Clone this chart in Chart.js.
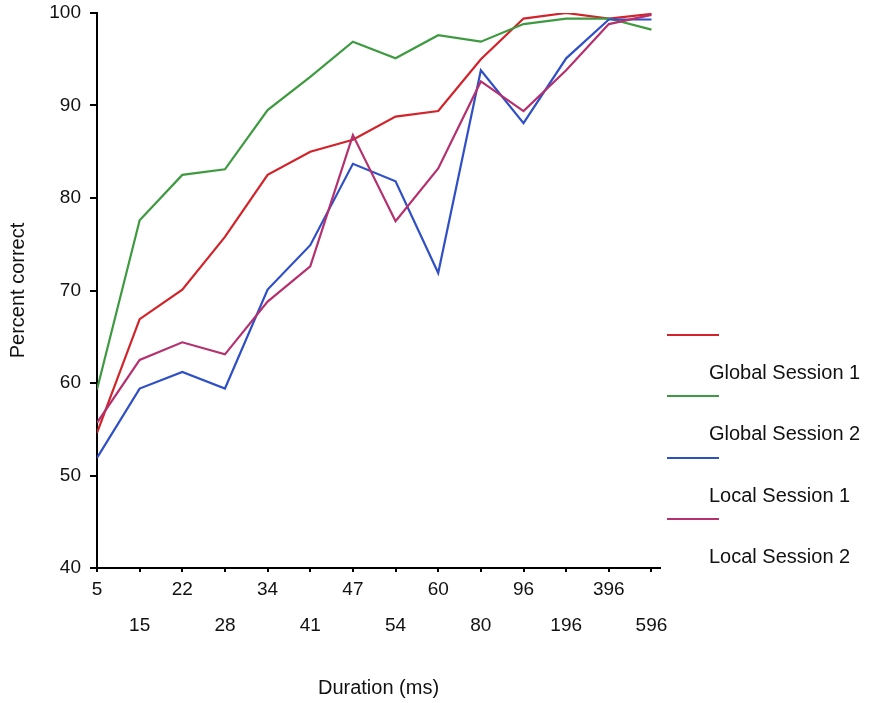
<!DOCTYPE html>
<html>
<head>
<meta charset="utf-8">
<script src="https://cdn.jsdelivr.net/npm/chart.js@4/dist/chart.umd.min.js"></script>
<style>
  html, body { margin: 0; padding: 0; background: #fff; }
  #wrap { position: relative; width: 874px; height: 703px; }
  #c { position: absolute; left: 0; top: 0; }
  #legend { position: absolute; left: 0; top: 0; width: 874px; height: 703px; pointer-events: none;
            font-family: "Liberation Sans", Arial, sans-serif; font-size: 20px; color: #111; }
  .lg-line { position: absolute; height: 2px; width: 52px; }
  .lg-text { position: absolute; white-space: nowrap; line-height: 24px; }
</style>
</head>
<body>
<div id="wrap">
  <canvas id="c" width="874" height="703"></canvas>
  <div id="legend"></div>
</div>
<script>
const categories = ['5','15','22','28','34','41','47','54','60','80','96','196','396','596'];
const yTicks = [40, 50, 60, 70, 80, 90, 100];
const globalSession1 = [54.6, 66.9, 70.1, 75.8, 82.5, 85.0, 86.3, 88.8, 89.4, 95.0, 99.4, 100.0, 99.4, 99.9];
const globalSession2 = [59.3, 77.6, 82.5, 83.1, 89.5, 93.1, 96.9, 95.1, 97.6, 96.9, 98.8, 99.4, 99.4, 98.2];
const localSession1  = [51.9, 59.4, 61.2, 59.4, 70.1, 74.9, 83.7, 81.8, 71.9, 93.8, 88.1, 95.1, 99.3, 99.3];
const localSession2  = [55.7, 62.5, 64.4, 63.1, 68.8, 72.6, 86.8, 77.5, 83.2, 92.6, 89.4, 93.8, 98.8, 99.8];
const seriesLabels = ['Global Session 1', 'Global Session 2', 'Local Session 1', 'Local Session 2'];
const seriesColors = ['#d2232a', '#3e9a40', '#2f4fc6', '#b5306e'];
const seriesValues = [globalSession1, globalSession2, localSession1, localSession2];

const FONT = '"Liberation Sans", Arial, sans-serif';

const datasets = seriesValues.map((vals, k) => ({
  label: seriesLabels[k],
  data: vals.map((v, i) => ({ x: i, y: v })),
  borderColor: seriesColors[k],
  backgroundColor: seriesColors[k],
  borderWidth: 2.2,
  pointRadius: 0,
  tension: 0,
  fill: false
}));
const order = [3, 2, 1, 0];
datasets.forEach((d, k) => { d.order = order[k]; });

const chart = new Chart(document.getElementById('c'), {
  type: 'line',
  data: { datasets },
  options: {
    responsive: false,
    animation: false,
    layout: { padding: { top: 13, right: 214, bottom: 0, left: 0 } },
    plugins: { legend: { display: false }, tooltip: { enabled: false } },
    scales: {
      x: {
        type: 'linear',
        min: 0,
        max: 13.2,
        afterFit: s => { s.height = 135; s.paddingLeft = 0; s.paddingRight = 0; },
        afterBuildTicks: s => { s.ticks = categories.map((c, i) => ({ value: i })); },
        grid: { display: true, drawOnChartArea: false, drawTicks: true, tickLength: 4, color: '#000', lineWidth: 2 },
        border: { display: true, color: '#000', width: 2 },
        ticks: {
          autoSkip: false,
          maxRotation: 0,
          minRotation: 0,
          padding: 0,
          color: '#111',
          font: { family: FONT, size: 19, lineHeight: 1.87 },
          callback: (v) => {
            const i = Math.round(v);
            const lab = categories[i];
            if (lab === undefined) return '';
            return i % 2 === 0 ? lab : ['', lab];
          }
        },
        title: { display: true, text: 'Duration (ms)', color: '#111', font: { family: FONT, size: 20 }, padding: { top: 0, bottom: 3 } }
      },
      y: {
        min: 40,
        max: 100,
        afterFit: s => { s.width = 97; s.paddingTop = 0; s.paddingBottom = 0; },
        afterBuildTicks: s => { s.ticks = yTicks.map(v => ({ value: v })); },
        grid: { display: true, drawOnChartArea: false, drawTicks: true, tickLength: 7, color: '#000', lineWidth: 2 },
        border: { display: true, color: '#000', width: 2 },
        ticks: { padding: 9, color: '#111', font: { family: FONT, size: 19 } },
        title: { display: true, text: 'Percent correct', color: '#111', font: { family: FONT, size: 20 }, padding: { top: 6, bottom: 0 } }
      }
    }
  }
});

const legend = document.getElementById('legend');
const lineY0 = 335, stepY = 61.3, lineX = 667, textX = 709, textDy = 37;
chart.data.datasets.forEach((d, k) => {
  const ln = document.createElement('div');
  ln.className = 'lg-line';
  ln.style.left = lineX + 'px';
  ln.style.top = (lineY0 + k * stepY - 1) + 'px';
  ln.style.background = d.borderColor;
  legend.appendChild(ln);
  const tx = document.createElement('div');
  tx.className = 'lg-text';
  tx.style.left = textX + 'px';
  tx.style.top = (lineY0 + k * stepY + textDy - 12) + 'px';
  tx.textContent = d.label;
  legend.appendChild(tx);
});
</script>
</body>
</html>
